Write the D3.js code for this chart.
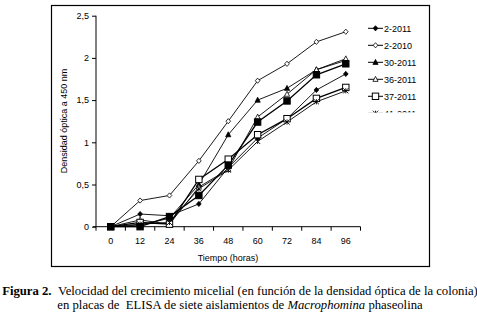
<!DOCTYPE html>
<html>
<head>
<meta charset="utf-8">
<script src="https://cdn.jsdelivr.net/npm/d3@7"></script>
<style>
  body { margin: 0; background: #fff; }
  svg { display: block; }
</style>
</head>
<body>
<svg id="chart" width="477" height="320"></svg>
<script>
const hours = ["0", "12", "24", "36", "48", "60", "72", "84", "96"];
const yTicks = [0, 0.5, 1, 1.5, 2, 2.5];
const seriesNames = ["2-2011", "2-2010", "30-2011", "36-2011", "37-2011", "41-2011", "42-2011"];
const s2_2011  = [0, 0.15, 0.13, 0.27, 0.70, 1.05, 1.28, 1.62, 1.81];
const s2_2010  = [0, 0.31, 0.37, 0.78, 1.25, 1.73, 1.93, 2.19, 2.31];
const s30_2011 = [0, 0.02, 0.10, 0.50, 1.09, 1.50, 1.64, 1.86, 1.97];
const s36_2011 = [0, 0.08, 0.03, 0.47, 0.68, 1.30, 1.57, 1.86, 1.99];
const s37_2011 = [0, 0.05, 0.03, 0.56, 0.80, 1.09, 1.28, 1.52, 1.65];
const s41_2011 = [0, 0.03, 0.05, 0.45, 0.67, 1.01, 1.24, 1.48, 1.61];
const s42_2011 = [0, 0.00, 0.12, 0.37, 0.73, 1.24, 1.49, 1.80, 1.93];
const seriesValues = [s2_2011, s2_2010, s30_2011, s36_2011, s37_2011, s41_2011, s42_2011];
const markerTypes = ["fdiamond", "odiamond", "ftri", "otri", "osquare", "star", "fsquare"];

const svg = d3.select("#chart");
const sans = "'Liberation Sans', Arial, sans-serif";
const serif = "'Liberation Serif', 'Times New Roman', serif";

// outer frame
svg.append("rect").attr("x", 51.5).attr("y", 5.5).attr("width", 378).attr("height", 261)
  .attr("fill", "none").attr("stroke", "#000").attr("stroke-width", 1.2);

const x = d3.scaleBand().domain(hours).range([96, 360.5]);
const y = d3.scaleLinear().domain([0, 2.5]).range([226.7, 15.7]);
const cx = d => x(d) + x.bandwidth() / 2;

// y axis
const yAxis = d3.axisLeft(y).tickValues(yTicks).tickSize(4).tickPadding(3)
  .tickFormat(d => String(d).replace(".", ","));
const gy = svg.append("g").attr("transform", "translate(96,0)").call(yAxis);
gy.select(".domain").attr("d", `M0,${y(2.5)}V${y(0)}`);

// x axis with ticks at band boundaries
const gx = svg.append("g").attr("transform", `translate(0,${y(0)})`);
gx.append("line").attr("x1", 93).attr("x2", 360.5).attr("y1", 0).attr("y2", 0).attr("stroke", "#000");
const bounds = hours.map(h => x(h)).concat([x(hours[hours.length - 1]) + x.bandwidth()]);
gx.selectAll("line.tk").data(bounds).enter().append("line").attr("class", "tk")
  .attr("x1", d => d).attr("x2", d => d).attr("y1", 0).attr("y2", 4).attr("stroke", "#000");
gx.selectAll("text").data(hours).enter().append("text")
  .attr("x", d => cx(d)).attr("y", 17).attr("text-anchor", "middle").text(d => d);

[gy, gx].forEach(g => {
  g.selectAll("text").attr("font-family", sans).attr("font-size", 9).attr("fill", "#000");
  g.selectAll("line, path").attr("stroke", "#000");
});

// axis titles
svg.append("text").attr("transform", "translate(67,121) rotate(-90)").attr("text-anchor", "middle")
  .attr("font-family", sans).attr("font-size", 9).text("Densidad óptica a 450 nm");
svg.append("text").attr("x", 228).attr("y", 261).attr("text-anchor", "middle")
  .attr("font-family", sans).attr("font-size", 9).text("Tiempo (horas)");

function drawMarker(g, type, px, py) {
  const s = 2.6;
  if (type === "fdiamond" || type === "odiamond") {
    g.append("path").attr("d", `M${px},${py - s}L${px + s * 0.9},${py}L${px},${py + s}L${px - s * 0.9},${py}Z`)
      .attr("fill", type === "fdiamond" ? "#000" : "#fff").attr("stroke", "#000").attr("stroke-width", 0.8);
  } else if (type === "ftri" || type === "otri") {
    g.append("path").attr("d", `M${px},${py - s - 0.3}L${px + s},${py + s * 0.8}L${px - s},${py + s * 0.8}Z`)
      .attr("fill", type === "ftri" ? "#000" : "#fff").attr("stroke", "#000").attr("stroke-width", 0.8);
  } else if (type === "osquare" || type === "fsquare") {
    const h = 3.2;
    g.append("rect").attr("x", px - h).attr("y", py - h).attr("width", 2 * h).attr("height", 2 * h)
      .attr("fill", type === "fsquare" ? "#000" : "#fff").attr("stroke", "#000").attr("stroke-width", 1);
  } else if (type === "star") {
    g.append("path").attr("d", `M${px - s},${py - s}L${px + s},${py + s}M${px - s},${py + s}L${px + s},${py - s}M${px},${py - s}V${py + s}`)
      .attr("stroke", "#000").attr("stroke-width", 0.9).attr("fill", "none");
  }
}

const line = d3.line().x((d, i) => cx(hours[i])).y(d => y(d));
const plot = svg.append("g");
seriesValues.forEach((vals, k) => {
  plot.append("path").datum(vals).attr("d", line).attr("fill", "none").attr("stroke", "#000")
    .attr("stroke-width", (k === 4 || k === 6) ? 1.3 : 0.9);
});
seriesValues.forEach((vals, k) => {
  const g = plot.append("g");
  vals.forEach((v, i) => drawMarker(g, markerTypes[k], cx(hours[i]), y(v)));
});

// legend (clipped as in the original)
svg.append("clipPath").attr("id", "legclip").append("rect")
  .attr("x", 360).attr("y", 15).attr("width", 68).attr("height", 97.5);
const leg = svg.append("g").attr("clip-path", "url(#legclip)");
seriesNames.forEach((name, k) => {
  const ly = 28.3 + k * 17;
  const g = leg.append("g");
  g.append("line").attr("x1", 368).attr("x2", 383).attr("y1", ly).attr("y2", ly).attr("stroke", "#000").attr("stroke-width", 1);
  drawMarker(g, markerTypes[k], 375.5, ly);
  g.append("text").attr("x", 384).attr("y", ly + 3.3).attr("font-family", sans).attr("font-size", 9).text(name);
});

// caption
const cap1 = svg.append("text").attr("x", 240).attr("y", 295).attr("text-anchor", "middle")
  .attr("font-family", serif).attr("font-size", 12.7);
cap1.append("tspan").attr("font-weight", "bold").text("Figura 2.");
cap1.append("tspan").text("\u00a0\u00a0Velocidad del crecimiento micelial (en función de la densidad óptica de la colonia)");
const cap2 = svg.append("text").attr("x", 240).attr("y", 309).attr("text-anchor", "middle")
  .attr("font-family", serif).attr("font-size", 12.7);
cap2.append("tspan").text("en placas de\u00a0\u00a0ELISA de siete aislamientos de ");
cap2.append("tspan").attr("font-style", "italic").text("Macrophomina");
cap2.append("tspan").text(" phaseolina");
</script>
</body>
</html>
